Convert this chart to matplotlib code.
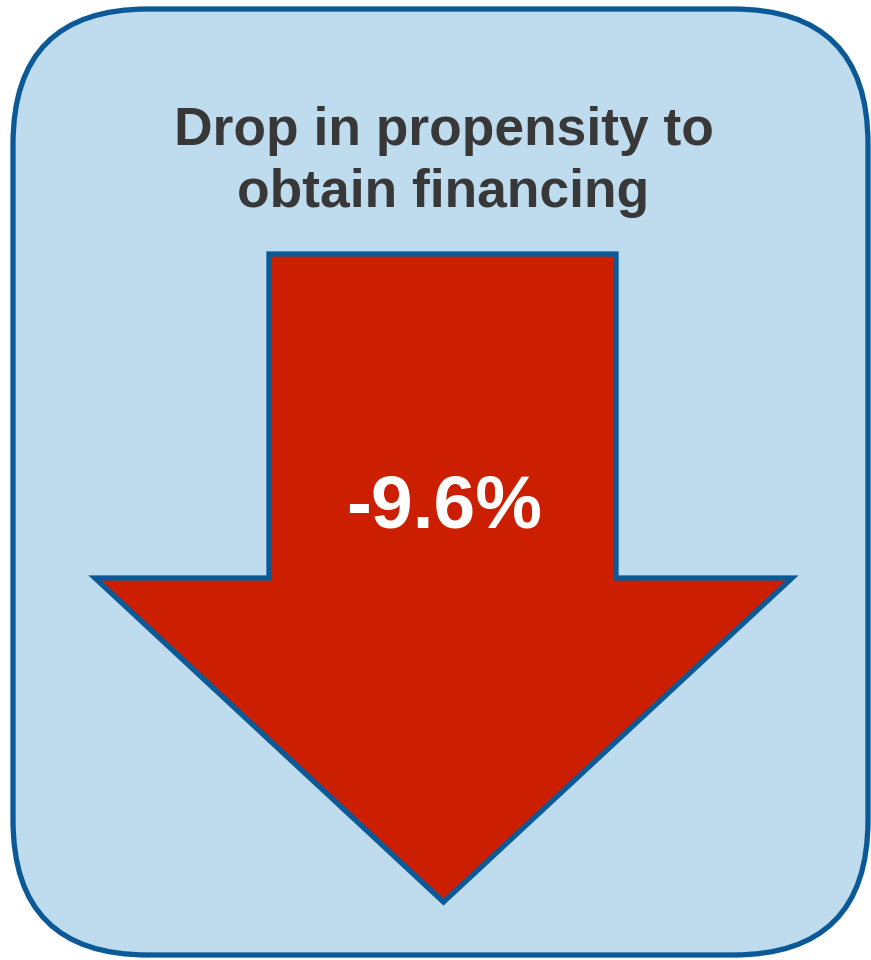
import matplotlib
matplotlib.use("Agg")
import matplotlib.pyplot as plt
from matplotlib.patches import FancyBboxPatch, Polygon

title_lines = ["Drop in propensity to", "obtain financing"]
value = -9.6
value_label = f"{value:.1f}%"

W, H = 871, 960
fig = plt.figure(figsize=(W / 100, H / 100), dpi=100)
ax = fig.add_axes([0, 0, 1, 1])
ax.set_xlim(0, W)
ax.set_ylim(H, 0)
ax.axis("off")

edge = "#0B5A97"
box = FancyBboxPatch((13, 9), 855, 946,
                     boxstyle="round,pad=0,rounding_size=135",
                     facecolor="#BFDCEE", edgecolor=edge, linewidth=3.8)
ax.add_patch(box)

cx = 443.5
arrow_pts = [(269, 254), (616, 254), (616, 578), (792, 578),
             (cx, 902), (95, 578), (269, 578)]
arrow = Polygon(arrow_pts, closed=True, facecolor="#CC1E00",
                edgecolor=edge, linewidth=3.8, joinstyle="miter")
ax.add_patch(arrow)

font = ["Liberation Sans", "DejaVu Sans"]
for line, base in zip(title_lines, [145, 207]):
    ax.text(cx, base, line, ha="center", va="baseline",
            fontsize=38.4, fontweight="bold", color="#383838", family=font)
ax.text(444, 528, value_label, ha="center", va="baseline",
        fontsize=54, fontweight="bold", color="white", family=font)

fig.savefig("out.png", dpi=100)
